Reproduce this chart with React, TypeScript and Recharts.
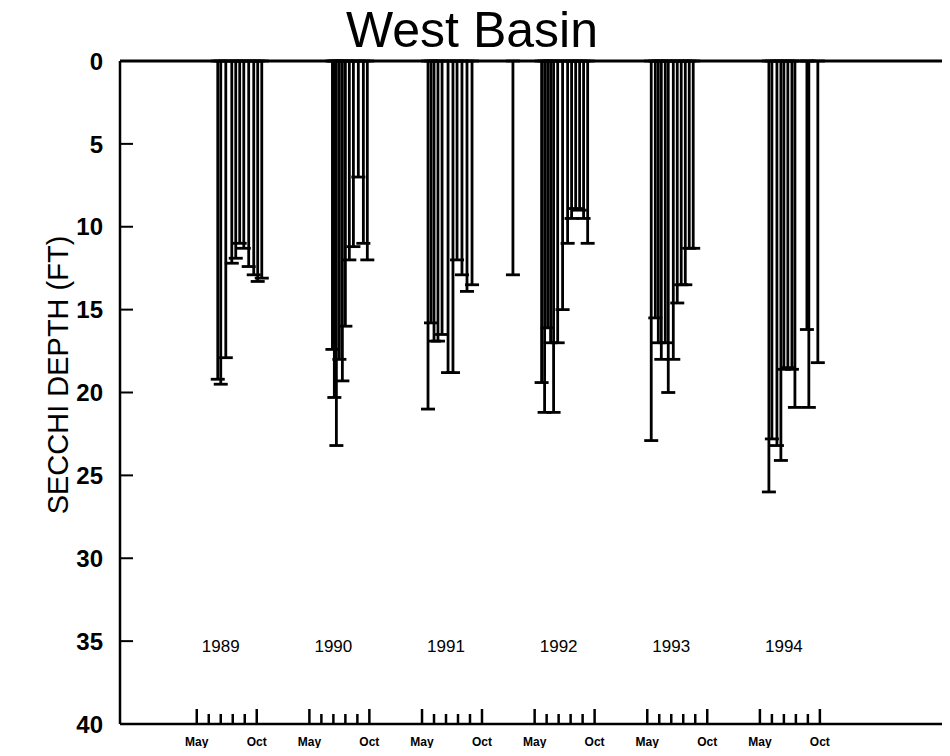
import React from 'react';
import { ComposedChart, Scatter, ErrorBar, XAxis, YAxis, ReferenceLine } from 'recharts';

// ---- data (Secchi depth in feet, offsets in months after May 1 of each year) ----
const years = [1989, 1990, 1991, 1992, 1993, 1994];
const monthTickLabels = ['May', '', '', '', '', 'Oct'];
const depthTicks = [0, 5, 10, 15, 20, 25, 30, 35, 40];

const offsets1989 = [1.75, 2.0, 2.42, 2.92, 3.25, 3.58, 3.92, 4.33, 4.75, 5.08, 5.42];
const depths1989 = [19.2, 19.5, 17.9, 12.2, 11.9, 11.0, 11.3, 12.4, 12.9, 13.3, 13.1];

const offsets1990 = [1.92, 2.08, 2.25, 2.5, 2.75, 3.0, 3.33, 3.67, 4.08, 4.5, 4.83];
const depths1990 = [17.4, 20.3, 23.2, 18.0, 19.3, 16.0, 12.0, 11.2, 7.0, 11.0, 12.0];

const offsets1991 = [0.5, 0.75, 1.0, 1.33, 1.67, 2.17, 2.58, 2.92, 3.33, 3.75, 4.17, 7.58];
const depths1991 = [21.0, 15.8, 16.9, 16.9, 16.5, 18.8, 18.8, 12.0, 12.9, 13.9, 13.5, 12.9];

const offsets1992 = [0.58, 0.83, 1.08, 1.33, 1.58, 1.92, 2.33, 2.75, 3.08, 3.42, 3.75, 4.08, 4.42];
const depths1992 = [19.4, 21.2, 16.1, 17.0, 21.2, 17.0, 15.0, 11.0, 9.5, 8.9, 9.0, 9.5, 11.0];

const offsets1993 = [0.33, 0.67, 0.92, 1.17, 1.5, 1.75, 2.17, 2.5, 2.83, 3.17, 3.5, 3.83];
const depths1993 = [22.9, 15.5, 17.0, 18.0, 17.0, 20.0, 18.0, 14.6, 13.5, 13.5, 11.3, 11.3];

const offsets1994 = [0.75, 1.0, 1.42, 1.75, 2.0, 2.33, 2.67, 2.92, 3.92, 4.08, 4.83];
const depths1994 = [26.0, 22.8, 23.2, 24.1, 18.6, 18.5, 18.6, 20.9, 16.2, 20.9, 18.2];

const yearOffsets = [offsets1989, offsets1990, offsets1991, offsets1992, offsets1993, offsets1994];
const yearDepths = [depths1989, depths1990, depths1991, depths1992, depths1993, depths1994];

// axis layout: each year shown as a compressed May–Oct window
const YEAR_STEP = 9.39;
const YEAR_LABEL_OFFSET = 2.0;
const YEAR_LABEL_DEPTH = 35.3;

const measurements = years.flatMap((_, i) =>
  yearOffsets[i].map((o, j) => ({
    x: i * YEAR_STEP + o,
    depth: yearDepths[i][j],
    err: [yearDepths[i][j], 0],
  }))
);

const yearLabelPoints = years.map((yr, i) => ({
  x: i * YEAR_STEP + YEAR_LABEL_OFFSET,
  depth: YEAR_LABEL_DEPTH,
  label: String(yr),
}));

const monthTicks = years.flatMap((_, i) => [0, 1, 2, 3, 4, 5].map((m) => i * YEAR_STEP + m));

const FONT = '"Liberation Sans", Arial, Helvetica, sans-serif';

const YTick = (props: any) => {
  const { x, y, payload } = props;
  return (
    <g>
      <line x1={x} x2={x + 13} y1={y} y2={y} stroke="#000" strokeWidth={2} />
      <text
        x={x - 17}
        y={y}
        dy="0.36em"
        textAnchor="end"
        fontSize={24}
        fontWeight="bold"
        fontFamily={FONT}
        fill="#000"
      >
        {payload.value}
      </text>
    </g>
  );
};

const XTick = (props: any) => {
  const { x, y, payload } = props;
  const v = payload.value as number;
  const yi = Math.floor((v + 0.5) / YEAR_STEP);
  const m = Math.round(v - yi * YEAR_STEP);
  const len = m === 0 || m === 5 ? 15 : 10;
  const label = monthTickLabels[m] || '';
  return (
    <g>
      <line x1={x} x2={x} y1={y} y2={y - len} stroke="#000" strokeWidth={2.5} />
      {label ? (
        <text
          x={x}
          y={y + 22}
          textAnchor="middle"
          fontSize={12}
          fontWeight="bold"
          fontFamily={FONT}
          fill="#000"
        >
          {label}
        </text>
      ) : null}
    </g>
  );
};

const YearLabel = (props: any) => {
  const { cx, cy, payload } = props;
  return (
    <text
      x={cx}
      y={cy}
      dy="0.36em"
      textAnchor="middle"
      fontSize={17}
      fontFamily={FONT}
      fill="#000"
    >
      {payload.label}
    </text>
  );
};

export default function App() {
  return (
    <div
      style={{
        position: 'relative',
        margin: -8,
        width: 950,
        height: 756,
        overflow: 'hidden',
        fontFamily: FONT,
        background: '#fff',
      }}
    >
      <div
        style={{
          position: 'absolute',
          left: 472,
          top: 30,
          transform: 'translate(-50%, -50%)',
          fontSize: 50,
          lineHeight: 1,
          whiteSpace: 'nowrap',
          color: '#000',
          zIndex: 2,
        }}
      >
        West Basin
      </div>
      <div
        style={{
          position: 'absolute',
          left: 58,
          top: 375,
          transform: 'translate(-50%, -50%) rotate(-90deg)',
          fontSize: 29,
          lineHeight: 1,
          whiteSpace: 'nowrap',
          color: '#000',
          zIndex: 2,
        }}
      >
        SECCHI DEPTH (FT)
      </div>
      <ComposedChart width={968} height={756} margin={{ top: 61, right: 0, bottom: 0, left: 0 }}>
        <XAxis
          type="number"
          dataKey="x"
          domain={[-6.4, 64.3]}
          ticks={monthTicks}
          interval={0}
          tick={(p: any) => <XTick {...p} />}
          tickLine={false}
          tickSize={0}
          tickMargin={0}
          height={32}
          axisLine={{ stroke: '#000', strokeWidth: 2.5 }}
          allowDataOverflow
        />
        <YAxis
          type="number"
          dataKey="depth"
          domain={[0, 40]}
          reversed
          ticks={depthTicks}
          interval={0}
          tick={(p: any) => <YTick {...p} />}
          tickLine={false}
          tickSize={0}
          tickMargin={0}
          width={120}
          axisLine={{ stroke: '#000', strokeWidth: 2.5 }}
          allowDataOverflow
        />
        <ReferenceLine y={0} stroke="#000" strokeWidth={3} />
        <Scatter data={measurements} isAnimationActive={false} shape={() => <g />}>
          <ErrorBar dataKey="err" direction="y" width={7} stroke="#000" strokeWidth={2.8} />
        </Scatter>
        <Scatter
          data={yearLabelPoints}
          isAnimationActive={false}
          shape={(p: any) => <YearLabel {...p} />}
        />
      </ComposedChart>
    </div>
  );
}
